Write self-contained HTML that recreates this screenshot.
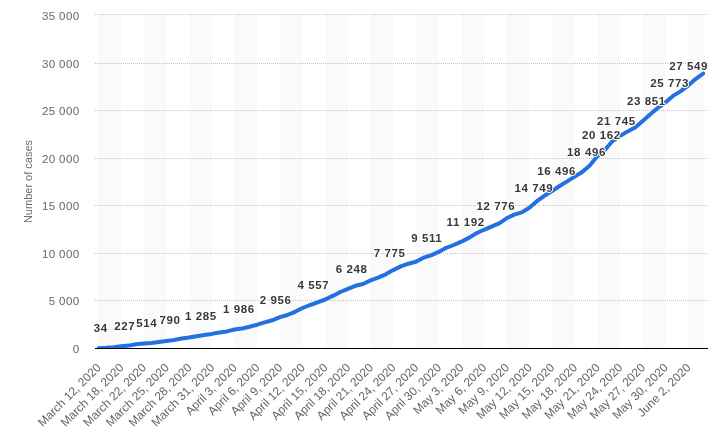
<!DOCTYPE html>
<html><head><meta charset="utf-8"><style>
html,body{margin:0;padding:0;background:#fff;width:719px;height:432px;overflow:hidden}
svg{display:block;will-change:transform}
text{font-family:"Liberation Sans", sans-serif}
</style></head><body>
<svg width="719" height="432" viewBox="0 0 719 432">

<rect x="98.40" y="15" width="22.68" height="333" fill="#fafafa"/>
<rect x="143.76" y="15" width="22.68" height="333" fill="#fafafa"/>
<rect x="189.12" y="15" width="22.68" height="333" fill="#fafafa"/>
<rect x="234.48" y="15" width="22.68" height="333" fill="#fafafa"/>
<rect x="279.84" y="15" width="22.68" height="333" fill="#fafafa"/>
<rect x="325.20" y="15" width="22.68" height="333" fill="#fafafa"/>
<rect x="370.56" y="15" width="22.68" height="333" fill="#fafafa"/>
<rect x="415.92" y="15" width="22.68" height="333" fill="#fafafa"/>
<rect x="461.28" y="15" width="22.68" height="333" fill="#fafafa"/>
<rect x="506.64" y="15" width="22.68" height="333" fill="#fafafa"/>
<rect x="552.00" y="15" width="22.68" height="333" fill="#fafafa"/>
<rect x="597.36" y="15" width="22.68" height="333" fill="#fafafa"/>
<rect x="642.72" y="15" width="22.68" height="333" fill="#fafafa"/>
<rect x="688.08" y="15" width="15.92" height="333" fill="#fafafa"/>
<line x1="95" y1="14.5" x2="709" y2="14.5" stroke="#c4c4c4" stroke-width="1" stroke-dasharray="1,1"/>
<line x1="95" y1="63.5" x2="709" y2="63.5" stroke="#c4c4c4" stroke-width="1" stroke-dasharray="1,1"/>
<line x1="95" y1="110.5" x2="709" y2="110.5" stroke="#c4c4c4" stroke-width="1" stroke-dasharray="1,1"/>
<line x1="95" y1="158.5" x2="709" y2="158.5" stroke="#c4c4c4" stroke-width="1" stroke-dasharray="1,1"/>
<line x1="95" y1="205.5" x2="709" y2="205.5" stroke="#c4c4c4" stroke-width="1" stroke-dasharray="1,1"/>
<line x1="95" y1="253.5" x2="709" y2="253.5" stroke="#c4c4c4" stroke-width="1" stroke-dasharray="1,1"/>
<line x1="95" y1="300.5" x2="709" y2="300.5" stroke="#c4c4c4" stroke-width="1" stroke-dasharray="1,1"/>
<text x="79.5" y="20" text-anchor="end" font-size="11.5" fill="#666666" letter-spacing="0.4">35 000</text>
<text x="79.5" y="68" text-anchor="end" font-size="11.5" fill="#666666" letter-spacing="0.4">30 000</text>
<text x="79.5" y="115" text-anchor="end" font-size="11.5" fill="#666666" letter-spacing="0.4">25 000</text>
<text x="79.5" y="163" text-anchor="end" font-size="11.5" fill="#666666" letter-spacing="0.4">20 000</text>
<text x="79.5" y="210" text-anchor="end" font-size="11.5" fill="#666666" letter-spacing="0.4">15 000</text>
<text x="79.5" y="258" text-anchor="end" font-size="11.5" fill="#666666" letter-spacing="0.4">10 000</text>
<text x="79.5" y="305" text-anchor="end" font-size="11.5" fill="#666666" letter-spacing="0.4">5 000</text>
<text x="79.5" y="353" text-anchor="end" font-size="11.5" fill="#666666" letter-spacing="0.4">0</text>
<text transform="translate(31.5,181.5) rotate(-90)" text-anchor="middle" font-size="11" fill="#6e6e6e">Number of cases</text>
<clipPath id="c"><rect x="97" y="0" width="622" height="348"/></clipPath>
<path d="M98.4 348.2 L106.0 347.8 L113.5 347.2 L121.1 346.3 L128.6 345.6 L136.2 344.2 L143.8 343.6 L151.3 343.0 L158.9 342.0 L166.4 341.0 L174.0 340.0 L181.6 338.5 L189.1 337.5 L196.7 336.2 L204.2 335.0 L211.8 333.9 L219.4 332.5 L226.9 331.4 L234.5 329.5 L242.0 328.5 L249.6 326.8 L257.2 324.7 L264.7 322.4 L272.3 320.3 L279.8 317.1 L287.4 315.0 L295.0 311.8 L302.5 308.0 L310.1 305.0 L317.6 302.3 L325.2 299.5 L332.8 295.9 L340.3 292.0 L347.9 288.9 L355.4 285.8 L363.0 284.0 L370.6 280.4 L378.1 277.7 L385.7 274.3 L393.2 270.1 L400.8 266.4 L408.4 263.7 L415.9 261.7 L423.5 257.7 L431.0 255.3 L438.6 251.9 L446.2 247.8 L453.7 245.0 L461.3 241.7 L468.8 237.9 L476.4 233.3 L484.0 229.8 L491.5 226.6 L499.1 223.4 L506.6 218.3 L514.2 214.6 L521.8 212.4 L529.3 207.8 L536.9 201.2 L544.4 195.8 L552.0 191.1 L559.6 186.0 L567.1 181.4 L574.7 176.6 L582.2 172.0 L589.8 165.4 L597.4 156.1 L604.9 150.0 L612.5 141.0 L620.0 136.0 L627.6 131.4 L635.2 127.4 L642.7 120.9 L650.3 114.3 L657.8 107.9 L665.4 102.5 L673.0 95.9 L680.5 91.4 L688.1 85.6 L695.6 79.1 L703.2 73.5" fill="none" stroke="#2370e0" stroke-width="4" stroke-linejoin="round" stroke-linecap="round" clip-path="url(#c)"/>
<rect x="95" y="348" width="613" height="1" fill="#000000"/>
<text x="100.85" y="332" text-anchor="middle" font-size="11.5" font-weight="bold" fill="#383838" stroke="#fff" stroke-width="2" stroke-linejoin="round" paint-order="stroke" letter-spacing="0.6">34</text>
<text x="124.75" y="330.1" text-anchor="middle" font-size="11.5" font-weight="bold" fill="#383838" stroke="#fff" stroke-width="2" stroke-linejoin="round" paint-order="stroke" letter-spacing="0.6">227</text>
<text x="146.85000000000002" y="326.9" text-anchor="middle" font-size="11.5" font-weight="bold" fill="#383838" stroke="#fff" stroke-width="2" stroke-linejoin="round" paint-order="stroke" letter-spacing="0.6">514</text>
<text x="169.9" y="323.9" text-anchor="middle" font-size="11.5" font-weight="bold" fill="#383838" stroke="#fff" stroke-width="2" stroke-linejoin="round" paint-order="stroke" letter-spacing="0.6">790</text>
<text x="200.9" y="319.8" text-anchor="middle" font-size="11.5" font-weight="bold" fill="#383838" stroke="#fff" stroke-width="2" stroke-linejoin="round" paint-order="stroke" letter-spacing="0.6">1 285</text>
<text x="238.95000000000002" y="312.5" text-anchor="middle" font-size="11.5" font-weight="bold" fill="#383838" stroke="#fff" stroke-width="2" stroke-linejoin="round" paint-order="stroke" letter-spacing="0.6">1 986</text>
<text x="275.65000000000003" y="303.7" text-anchor="middle" font-size="11.5" font-weight="bold" fill="#383838" stroke="#fff" stroke-width="2" stroke-linejoin="round" paint-order="stroke" letter-spacing="0.6">2 956</text>
<text x="313.45" y="288.7" text-anchor="middle" font-size="11.5" font-weight="bold" fill="#383838" stroke="#fff" stroke-width="2" stroke-linejoin="round" paint-order="stroke" letter-spacing="0.6">4 557</text>
<text x="351.65000000000003" y="272.8" text-anchor="middle" font-size="11.5" font-weight="bold" fill="#383838" stroke="#fff" stroke-width="2" stroke-linejoin="round" paint-order="stroke" letter-spacing="0.6">6 248</text>
<text x="389.65000000000003" y="257.4" text-anchor="middle" font-size="11.5" font-weight="bold" fill="#383838" stroke="#fff" stroke-width="2" stroke-linejoin="round" paint-order="stroke" letter-spacing="0.6">7 775</text>
<text x="426.8" y="241.7" text-anchor="middle" font-size="11.5" font-weight="bold" fill="#383838" stroke="#fff" stroke-width="2" stroke-linejoin="round" paint-order="stroke" letter-spacing="0.6">9 511</text>
<text x="465.6" y="225.5" text-anchor="middle" font-size="11.5" font-weight="bold" fill="#383838" stroke="#fff" stroke-width="2" stroke-linejoin="round" paint-order="stroke" letter-spacing="0.6">11 192</text>
<text x="495.90000000000003" y="209.9" text-anchor="middle" font-size="11.5" font-weight="bold" fill="#383838" stroke="#fff" stroke-width="2" stroke-linejoin="round" paint-order="stroke" letter-spacing="0.6">12 776</text>
<text x="533.8499999999999" y="191.8" text-anchor="middle" font-size="11.5" font-weight="bold" fill="#383838" stroke="#fff" stroke-width="2" stroke-linejoin="round" paint-order="stroke" letter-spacing="0.6">14 749</text>
<text x="556.6999999999999" y="174.7" text-anchor="middle" font-size="11.5" font-weight="bold" fill="#383838" stroke="#fff" stroke-width="2" stroke-linejoin="round" paint-order="stroke" letter-spacing="0.6">16 496</text>
<text x="586.5" y="155.5" text-anchor="middle" font-size="11.5" font-weight="bold" fill="#383838" stroke="#fff" stroke-width="2" stroke-linejoin="round" paint-order="stroke" letter-spacing="0.6">18 496</text>
<text x="601.3" y="139.3" text-anchor="middle" font-size="11.5" font-weight="bold" fill="#383838" stroke="#fff" stroke-width="2" stroke-linejoin="round" paint-order="stroke" letter-spacing="0.6">20 162</text>
<text x="616.4499999999999" y="124.5" text-anchor="middle" font-size="11.5" font-weight="bold" fill="#383838" stroke="#fff" stroke-width="2" stroke-linejoin="round" paint-order="stroke" letter-spacing="0.6">21 745</text>
<text x="646.3499999999999" y="105" text-anchor="middle" font-size="11.5" font-weight="bold" fill="#383838" stroke="#fff" stroke-width="2" stroke-linejoin="round" paint-order="stroke" letter-spacing="0.6">23 851</text>
<text x="669.5999999999999" y="86.8" text-anchor="middle" font-size="11.5" font-weight="bold" fill="#383838" stroke="#fff" stroke-width="2" stroke-linejoin="round" paint-order="stroke" letter-spacing="0.6">25 773</text>
<text x="688.5999999999999" y="70.1" text-anchor="middle" font-size="11.5" font-weight="bold" fill="#383838" stroke="#fff" stroke-width="2" stroke-linejoin="round" paint-order="stroke" letter-spacing="0.6">27 549</text>
<text transform="translate(101.70,368.3) rotate(-45)" text-anchor="end" font-size="12" fill="#666666">March 12, 2020</text>
<text transform="translate(124.38,368.3) rotate(-45)" text-anchor="end" font-size="12" fill="#666666">March 18, 2020</text>
<text transform="translate(147.06,368.3) rotate(-45)" text-anchor="end" font-size="12" fill="#666666">March 22, 2020</text>
<text transform="translate(169.74,368.3) rotate(-45)" text-anchor="end" font-size="12" fill="#666666">March 25, 2020</text>
<text transform="translate(192.42,368.3) rotate(-45)" text-anchor="end" font-size="12" fill="#666666">March 28, 2020</text>
<text transform="translate(215.10,368.3) rotate(-45)" text-anchor="end" font-size="12" fill="#666666">March 31, 2020</text>
<text transform="translate(237.78,368.3) rotate(-45)" text-anchor="end" font-size="12" fill="#666666">April 3, 2020</text>
<text transform="translate(260.46,368.3) rotate(-45)" text-anchor="end" font-size="12" fill="#666666">April 6, 2020</text>
<text transform="translate(283.14,368.3) rotate(-45)" text-anchor="end" font-size="12" fill="#666666">April 9, 2020</text>
<text transform="translate(305.82,368.3) rotate(-45)" text-anchor="end" font-size="12" fill="#666666">April 12, 2020</text>
<text transform="translate(328.50,368.3) rotate(-45)" text-anchor="end" font-size="12" fill="#666666">April 15, 2020</text>
<text transform="translate(351.18,368.3) rotate(-45)" text-anchor="end" font-size="12" fill="#666666">April 18, 2020</text>
<text transform="translate(373.86,368.3) rotate(-45)" text-anchor="end" font-size="12" fill="#666666">April 21, 2020</text>
<text transform="translate(396.54,368.3) rotate(-45)" text-anchor="end" font-size="12" fill="#666666">April 24, 2020</text>
<text transform="translate(419.22,368.3) rotate(-45)" text-anchor="end" font-size="12" fill="#666666">April 27, 2020</text>
<text transform="translate(441.90,368.3) rotate(-45)" text-anchor="end" font-size="12" fill="#666666">April 30, 2020</text>
<text transform="translate(464.58,368.3) rotate(-45)" text-anchor="end" font-size="12" fill="#666666">May 3, 2020</text>
<text transform="translate(487.26,368.3) rotate(-45)" text-anchor="end" font-size="12" fill="#666666">May 6, 2020</text>
<text transform="translate(509.94,368.3) rotate(-45)" text-anchor="end" font-size="12" fill="#666666">May 9, 2020</text>
<text transform="translate(532.62,368.3) rotate(-45)" text-anchor="end" font-size="12" fill="#666666">May 12, 2020</text>
<text transform="translate(555.30,368.3) rotate(-45)" text-anchor="end" font-size="12" fill="#666666">May 15, 2020</text>
<text transform="translate(577.98,368.3) rotate(-45)" text-anchor="end" font-size="12" fill="#666666">May 18, 2020</text>
<text transform="translate(600.66,368.3) rotate(-45)" text-anchor="end" font-size="12" fill="#666666">May 21, 2020</text>
<text transform="translate(623.34,368.3) rotate(-45)" text-anchor="end" font-size="12" fill="#666666">May 24, 2020</text>
<text transform="translate(646.02,368.3) rotate(-45)" text-anchor="end" font-size="12" fill="#666666">May 27, 2020</text>
<text transform="translate(668.70,368.3) rotate(-45)" text-anchor="end" font-size="12" fill="#666666">May 30, 2020</text>
<text transform="translate(691.38,368.3) rotate(-45)" text-anchor="end" font-size="12" fill="#666666">June 2, 2020</text>
</svg></body></html>
